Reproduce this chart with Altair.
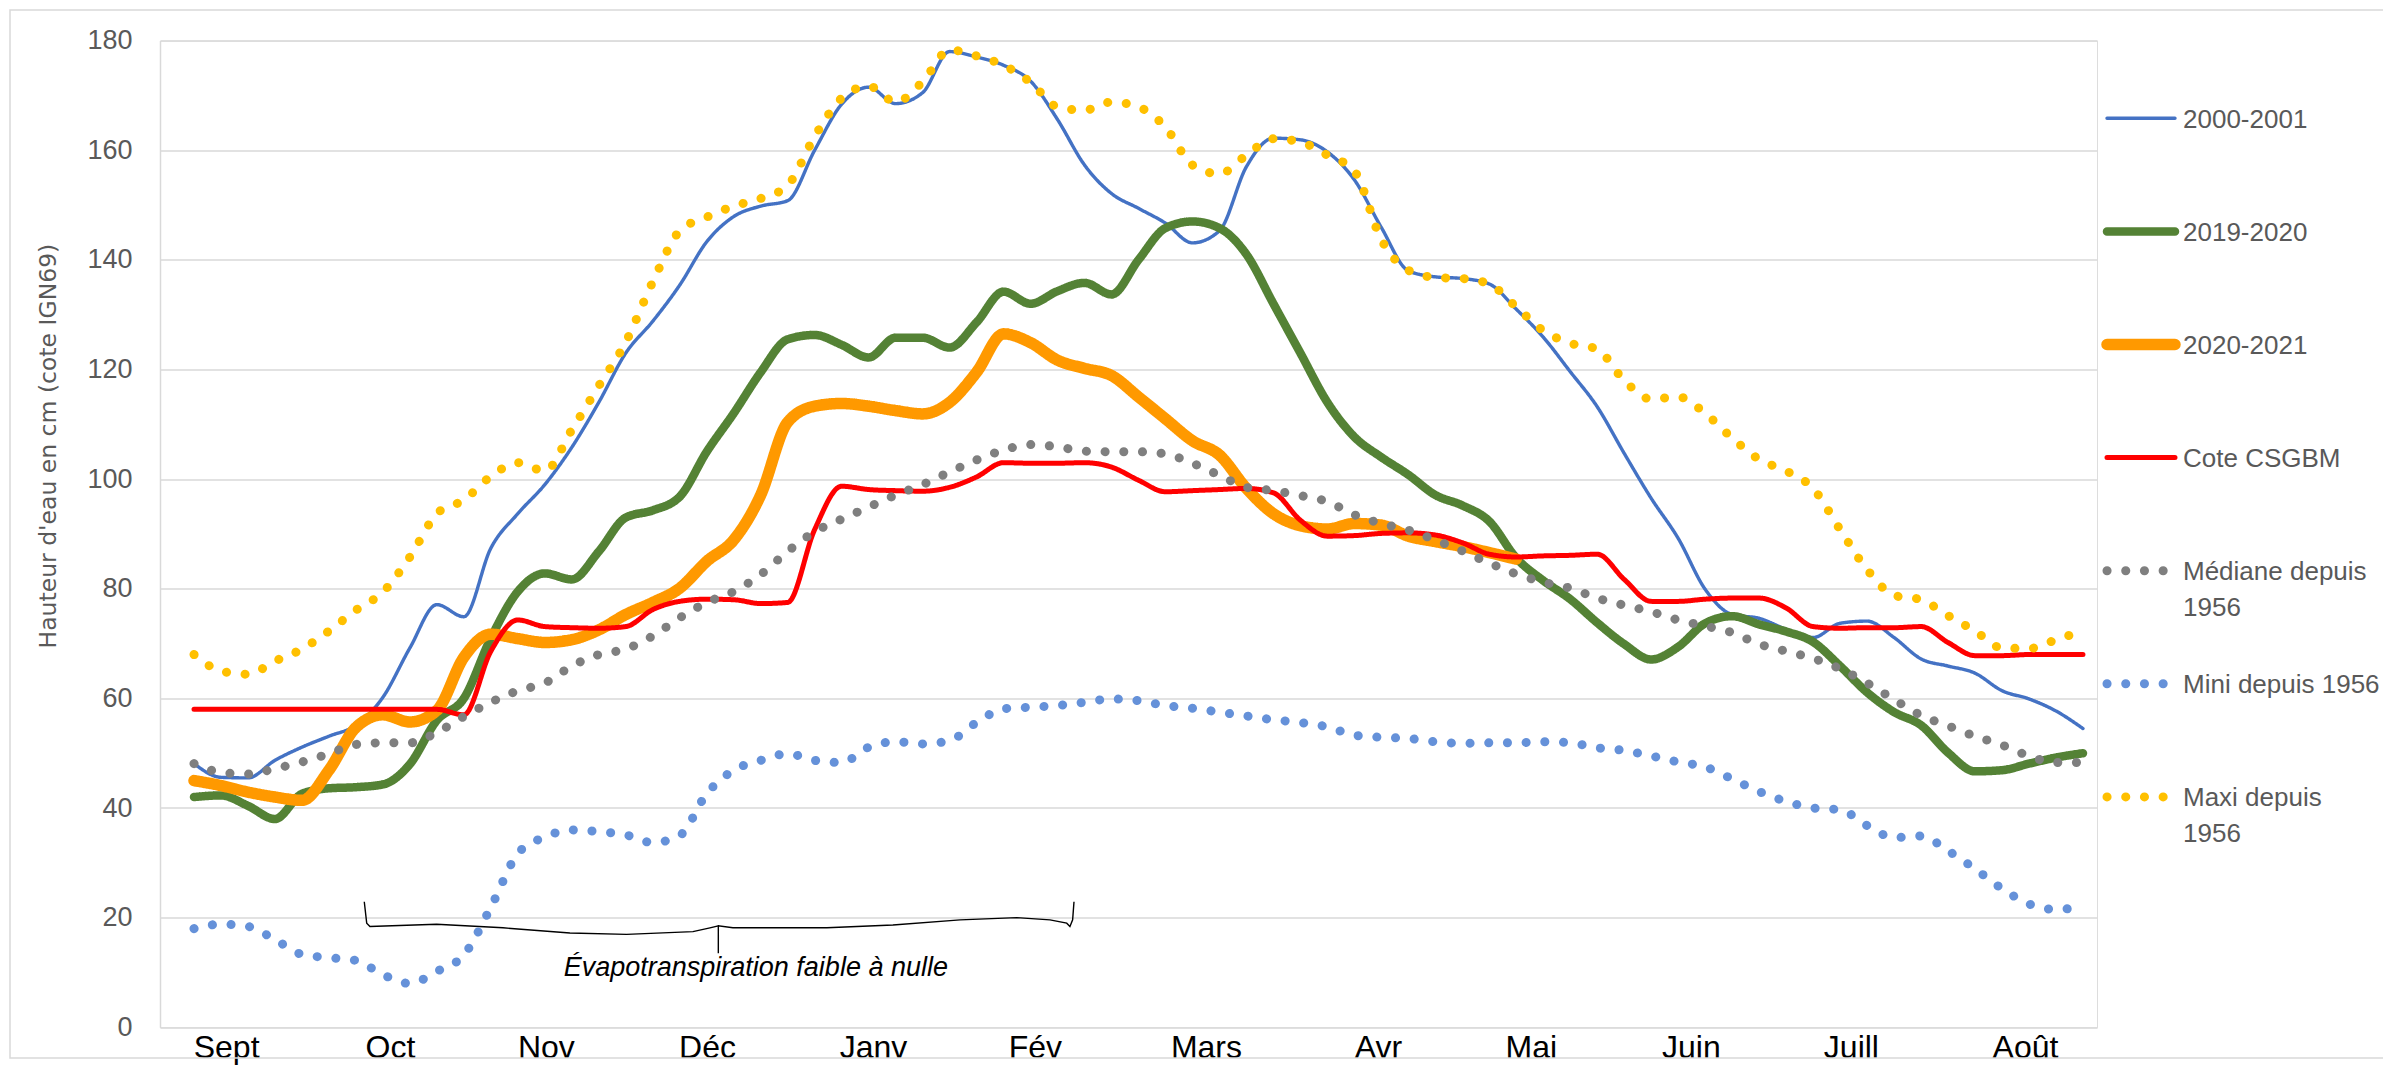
import altair as alt
import pandas as pd

# ---------------- data ----------------
MOIS = ["Sept", "Oct", "Nov", "Déc", "Janv", "Fév", "Mars", "Avr", "Mai", "Juin", "Juill", "Août"]
# centre of each month label, in sample-index units (one sample ~ every 5 days)
MOIS_POS = [1.19, 7.26, 13.04, 19.01, 25.16, 31.16, 37.50, 43.87, 49.54, 55.47, 61.40, 67.85]

SERIES = ["2000-2001", "2019-2020", "2020-2021", "Cote CSGBM",
          "Médiane depuis 1956", "Mini depuis 1956", "Maxi depuis 1956"]
LEGENDE = ["2000-2001", "2019-2020", "2020-2021", "Cote CSGBM",
           "Médiane depuis\n1956", "Mini depuis 1956", "Maxi depuis\n1956"]

A2000 = [48.1, 45.6, 45.5, 48.7, 51.1, 53.1, 55.1, 60.2, 69.2, 77.1, 74.9, 87.4, 93.7, 99.0,
         105.8, 114.0, 123.0, 128.8, 135.4, 143.3, 147.9, 149.8, 150.8, 160.0, 168.4, 171.5, 168.5, 170.5, 178.0,
         177.0, 175.5, 172.6, 165.6, 157.3, 152.1, 149.4, 146.7, 143.1, 145.3, 157.0, 162.2, 161.9, 159.7,
         154.6, 145.9, 138.0, 136.9, 136.6, 135.6, 131.0, 125.9, 119.6, 113.2, 104.7, 96.5, 89.2, 79.9, 75.3,
         74.6, 72.6, 71.1, 73.7, 74.1, 71.1, 67.2, 65.9, 64.6, 61.4, 59.9, 57.7, 54.5]
A2019 = [42.0, 42.3, 40.4, 38.0, 42.6, 43.6, 43.8, 44.3, 48.0, 56.0, 60.0, 71.0, 79.5, 82.8,
         81.7, 86.8, 93.0, 94.3, 96.8, 105.0, 112.0, 119.5, 125.5, 126.3, 124.5, 122.2, 125.8, 125.8, 124.0,
         128.6, 134.2, 132.0, 134.3, 135.8, 133.7, 140.0, 145.8, 147.0, 145.8, 141.0, 132.0, 123.0, 114.0,
         107.7, 104.0, 100.8, 97.1, 95.2, 92.3, 85.6, 81.5, 78.1, 73.8, 69.9, 67.1, 69.4, 73.7, 75.0,
         73.5, 72.2, 70.3, 65.9, 61.1, 57.5, 55.1, 50.1, 46.7, 46.9, 48.1, 49.2, 50.0]
A2020 = [45.0, 44.1, 42.9, 42.0, 41.4, 46.9, 54.7, 57.0, 55.7, 57.8, 67.5, 71.7, 70.9, 70.2,
         70.7, 72.5, 75.3, 77.5, 80.1, 85.0, 88.9, 97.1, 110.4, 113.3, 113.8, 113.3, 112.5, 111.9, 114.0,
         119.5, 126.5, 124.9, 121.7, 120.2, 118.9, 115.0, 111.0, 107.0, 104.4, 98.3, 93.7, 91.5, 90.9,
         91.9, 91.6, 89.6, 88.6, 87.7, 86.6, 85.4]
CSGBM = [58.0, 58.0, 58.0, 58.0, 58.0, 58.0, 58.0, 58.0, 58.0, 58.0, 57.0, 68.6, 74.3, 73.1,
         72.9, 72.8, 73.1, 76.2, 77.7, 78.1, 78.0, 77.3, 77.5, 90.8, 98.7, 98.1, 97.9, 97.8, 98.5,
         100.4, 103.0, 102.9, 102.9, 103.0, 102.2, 99.8, 97.7, 97.9, 98.1, 98.3, 97.5, 92.5, 89.6,
         89.7, 90.1, 90.2, 89.8, 88.4, 86.3, 85.8, 86.0, 86.1, 86.3, 81.7, 77.7, 77.7, 78.1, 78.3,
         78.3, 76.5, 73.1, 72.8, 72.9, 72.9, 73.1, 70.2, 67.8, 67.8, 68.0, 68.0, 68.0]
MEDIANE = [48.1, 46.5, 46.2, 47.2, 48.4, 49.9, 51.6, 51.9, 51.9, 53.8, 56.7, 59.3, 61.4, 62.8,
           65.9, 68.0, 69.0, 71.4, 74.7, 77.5, 79.5, 82.6, 86.8, 90.4, 92.7, 94.9, 97.1, 99.0, 101.3,
           103.5, 105.3, 106.3, 105.9, 105.1, 105.0, 105.0, 104.6, 102.9, 100.7, 98.5, 97.9, 97.0, 95.9,
           93.5, 91.9, 90.7, 88.9, 86.9, 84.7, 82.7, 81.2, 80.1, 78.3, 77.0, 75.8, 74.3, 73.2, 72.0,
           69.9, 68.6, 67.3, 65.4, 62.8, 59.8, 56.9, 55.0, 53.1, 51.5, 49.5, 48.3, 48.3]
MINI = [18.0, 18.8, 18.4, 16.0, 13.3, 12.7, 12.2, 9.6, 8.0, 10.2, 13.2, 21.9, 31.7, 34.7,
        36.0, 35.7, 35.1, 33.7, 35.0, 42.6, 46.9, 48.7, 49.9, 48.7, 48.3, 51.1, 52.1, 51.7, 52.3,
        55.6, 58.1, 58.4, 58.7, 59.3, 59.9, 59.6, 58.7, 58.2, 57.5, 56.8, 56.1, 55.6, 54.8,
        53.3, 52.9, 52.7, 52.1, 51.8, 51.9, 51.9, 52.1, 51.9, 51.0, 50.5, 49.5, 48.4, 47.5, 45.3,
        43.0, 41.2, 40.0, 39.7, 36.8, 34.6, 34.9, 32.2, 28.9, 25.3, 22.5, 21.5, 22.0]
MAXI = [68.0, 65.0, 64.4, 66.8, 69.0, 72.3, 76.1, 79.4, 85.8, 93.7, 96.2, 100.5, 103.0, 101.5,
        109.0, 117.0, 125.0, 136.0, 145.3, 147.8, 149.8, 151.2, 153.6, 162.5, 169.5, 171.7, 168.8, 172.5, 178.3,
        177.2, 175.5, 172.4, 167.9, 167.3, 168.8, 167.9, 164.2, 157.3, 155.7, 159.1, 162.1, 161.5, 159.1,
        156.2, 143.7, 138.1, 136.8, 136.6, 135.6, 131.4, 127.1, 124.8, 123.7, 118.0, 114.6, 115.0, 112.0, 107.5,
        103.6, 101.5, 98.3, 90.8, 83.5, 78.8, 78.0, 75.1, 72.3, 69.2, 69.1, 70.7, 72.3]

VALEURS = [A2000, A2019, A2020, CSGBM, MEDIANE, MINI, MAXI]

# brace annotation (in data units)
ACC_X = [6.31, 6.40, 6.52, 8.99, 11.45, 13.93, 16.03, 18.49, 19.12, 19.43, 19.43, 19.43,
         19.97, 23.45, 25.90, 28.39, 30.49, 31.72, 32.34, 32.46, 32.56, 32.61]
ACC_Y = [22.9, 19.0, 18.4, 18.8, 18.15, 17.2, 16.95, 17.45, 18.15, 18.5, 13.5, 18.5,
         18.15, 18.15, 18.65, 19.6, 20.0, 19.6, 19.0, 18.4, 19.6, 22.9]
NOTE = "Évapotranspiration faible à nulle"
NOTE_X = [20.82]
NOTE_Y = [10.9]

# ---------------- styles ----------------
COULEURS = ["#4472C4", "#548235", "#FF9900", "#FF0000", "#7F7F7F", "#6591D9", "#FFC000"]
EPAISSEURS = [3.4, 8.5, 11.5, 5.0, 9.0, 9.0, 9.0]
POINTILLE = [0.1, 18.6]
PLEIN = [1, 0]
TIRETS = [PLEIN, PLEIN, PLEIN, PLEIN, POINTILLE, POINTILLE, POINTILLE]

W = 1937
H = 986.7
XMIN, XMAX = -1.26, 70.52
FONT = "Liberation Sans"
GRIS = "#595959"
LEG_Y0, LEG_PAS = 77.7, 113.1

rows = []
for nom, vals in zip(SERIES, VALEURS):
    for k, v in enumerate(vals):
        rows.append({"serie": nom, "k": k, "v": v})
df = pd.DataFrame(rows)

acc = pd.DataFrame({"bx": ACC_X, "by": ACC_Y, "bo": list(range(len(ACC_X)))})
note = pd.DataFrame({"nx": NOTE_X, "ny": NOTE_Y, "t": [NOTE]})
leg_df = pd.DataFrame({"serie": SERIES, "rang": list(range(len(SERIES))), "lab": LEGENDE})

# month labels from positions
mids = [(MOIS_POS[i] + MOIS_POS[i + 1]) / 2 for i in range(len(MOIS_POS) - 1)]
lab_expr = "'" + MOIS[-1] + "'"
for i in range(len(mids) - 1, -1, -1):
    lab_expr = f"datum.value < {mids[i]:.3f} ? '{MOIS[i]}' : ({lab_expr})"

xscale = alt.Scale(domain=[XMIN, XMAX], nice=False, zero=False)
yscale = alt.Scale(domain=[0, 180], nice=False)
cscale = alt.Scale(domain=SERIES, range=COULEURS)
wscale = alt.Scale(type="ordinal", domain=SERIES, range=EPAISSEURS)
dscale = alt.Scale(domain=SERIES, range=TIRETS)

lines = alt.Chart(df).mark_line(
    interpolate="monotone", strokeCap="round", strokeJoin="round"
).encode(
    x=alt.X("k:Q", scale=xscale,
            axis=alt.Axis(title=None, values=MOIS_POS, labelExpr=lab_expr, grid=False,
                          ticks=False, domain=False, labelFont=FONT, labelFontSize=32,
                          labelColor="#000000", labelPadding=5, labelBaseline="top",
                          labelFlush=False, labelOverlap=False)),
    y=alt.Y("v:Q", scale=yscale,
            axis=alt.Axis(title="Hauteur d'eau en cm (cote IGN69)", values=list(range(0, 181, 20)),
                          grid=True, gridColor="#d9d9d9", gridWidth=1.5,
                          domain=True, domainColor="#d9d9d9", domainWidth=1.5,
                          ticks=False, labelFont=FONT, labelFontSize=27, labelColor=GRIS,
                          labelPadding=28,
                          titleFont="DejaVu Sans", titleFontSize=23.5, titleFontWeight="normal",
                          titleColor=GRIS, titleAngle=270, titleX=-111.5, titleY=405,
                          titleAlign="center", titleBaseline="middle")),
    color=alt.Color("serie:N", scale=cscale, legend=None),
    strokeWidth=alt.StrokeWidth("serie:N", scale=wscale, legend=None),
    strokeDash=alt.StrokeDash("serie:N", scale=dscale, legend=None),
)

# legend drawn from the series list
leg_base = alt.Chart(leg_df).transform_calculate(py=f"{LEG_Y0} + {LEG_PAS} * datum.rang")
leg_sym = leg_base.mark_rule(strokeCap="round").encode(
    x=alt.value(1947), x2=alt.value(2015),
    y=alt.Y("py:Q", scale=None),
    color=alt.Color("serie:N", scale=cscale, legend=None),
    strokeWidth=alt.StrokeWidth("serie:N", scale=wscale, legend=None),
    strokeDash=alt.StrokeDash("serie:N", scale=dscale, legend=None),
)
leg_txt = leg_base.mark_text(
    align="left", baseline="alphabetic", dy=9.5, lineBreak="\n", lineHeight=36,
    font=FONT, fontSize=26, color=GRIS
).encode(x=alt.value(2023), y=alt.Y("py:Q", scale=None), text="lab:N")

brace = alt.Chart(acc).mark_line(color="#000000", strokeWidth=1.4, interpolate="linear").encode(
    x=alt.X("bx:Q", scale=xscale),
    y=alt.Y("by:Q", scale=yscale),
    order="bo:Q",
)

txt = alt.Chart(note).mark_text(
    font=FONT, fontSize=27, fontStyle="italic", color="#000000", align="center", baseline="middle"
).encode(x=alt.X("nx:Q", scale=xscale), y=alt.Y("ny:Q", scale=yscale), text="t:N")

frame = alt.Chart(alt.Data(values=[{}])).mark_rect(
    fillOpacity=0, stroke="#d9d9d9", strokeWidth=1.5
).encode(x=alt.value(-150), x2=alt.value(W + 400), y=alt.value(-30.6), y2=alt.value(1017.4))

chart = alt.layer(frame, brace, txt, lines, leg_sym, leg_txt).properties(
    width=W, height=H,
    autosize=alt.AutoSizeParams(type="none"),
    padding={"left": 152, "top": 32.6, "right": 286, "bottom": 43.7},
).configure_view(strokeWidth=0).configure(background="#ffffff")

chart.save("out.html", embed_options={"renderer": "svg", "actions": False})
